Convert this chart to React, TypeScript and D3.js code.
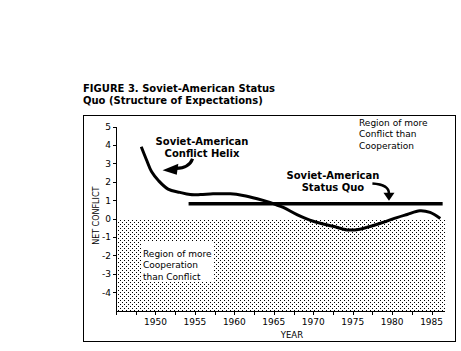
import React, { useEffect, useRef } from 'react';
import * as d3 from 'd3';

// Conflict helix (year, net conflict)
const helixYears = [1948.2, 1948.9, 1949.5, 1950.4, 1951.6, 1953.1, 1954.4, 1955.7, 1957.3, 1959.5, 1961.1, 1962.9, 1964.5, 1966.2, 1968.0, 1970.0, 1972.5, 1974.3, 1975.9, 1978.8, 1980.6, 1981.9, 1983.5, 1984.8, 1986.1];
const helixValues = [3.9, 3.15, 2.55, 2.05, 1.6, 1.42, 1.3, 1.3, 1.34, 1.34, 1.25, 1.07, 0.87, 0.6, 0.2, -0.15, -0.42, -0.62, -0.58, -0.22, 0.05, 0.22, 0.42, 0.33, 0.0];

// Status quo level (structure of expectations)
const statusQuoYears = [1954.2, 1986.4];
const statusQuoValues = [0.8, 0.8];

const yearLabels = [1950, 1955, 1960, 1965, 1970, 1975, 1980, 1985];
const yearTicks = d3.range(1945, 1986, 2.5);
const conflictTicks = [5, 4, 3, 2, 1, 0, -1, -2, -3, -4];

const titleLines = ['FIGURE 3. Soviet-American Status', 'Quo (Structure of Expectations)'];
const helixLabel = ['Soviet-American', 'Conflict Helix'];
const statusQuoLabel = ['Soviet-American', 'Status  Quo'];
const conflictRegion = ['Region of more', 'Conflict than', 'Cooperation'];
const coopRegion = ['Region of more', 'Cooperation', 'than Conflict'];

const App: React.FC = () => {
  const svgRef = useRef<SVGSVGElement>(null);

  useEffect(() => {
    if (!svgRef.current) return;
    const svg = d3.select(svgRef.current);
    svg.selectAll('*').remove();

    const font = '"DejaVu Sans", sans-serif';
    const x = d3.scaleLinear().domain([1945, 1986.7]).range([116, 445]);
    const y = d3.scaleLinear().domain([-5, 5]).range([310.5, 126.5]);

    // stipple pattern for the cooperation region
    const pat = svg.append('defs').append('pattern')
      .attr('id', 'dots')
      .attr('patternUnits', 'userSpaceOnUse')
      .attr('width', 4)
      .attr('height', 4);
    [[0, 0], [2, 2]].forEach(([px, py]) => {
      pat.append('rect')
        .attr('x', px).attr('y', py)
        .attr('width', 1).attr('height', 1)
        .attr('fill', '#000')
        .attr('shape-rendering', 'crispEdges');
    });

    // title
    svg.append('g').selectAll('text')
      .data(titleLines)
      .enter()
      .append('text')
      .attr('x', 83)
      .attr('y', (_, i) => 92 + i * 12)
      .attr('font-family', font)
      .attr('font-size', '10px')
      .attr('font-weight', 'bold')
      .text(d => d);

    // frame
    svg.append('rect')
      .attr('x', 83.5).attr('y', 115.5)
      .attr('width', 372).attr('height', 226)
      .attr('fill', 'none').attr('stroke', '#000');

    // shaded region below zero
    svg.append('rect')
      .attr('x', Math.round(x(1945))).attr('y', Math.round(y(0)))
      .attr('width', Math.round(x(1986.7) - x(1945)))
      .attr('height', Math.round(y(-5) - y(0)))
      .attr('fill', 'url(#dots)')
      .attr('shape-rendering', 'crispEdges');

    // white box behind the cooperation label
    const cx = Math.round(x(1948.2));
    svg.append('rect')
      .attr('x', cx).attr('y', Math.round(y(-1.3)))
      .attr('width', 72).attr('height', Math.round(y(-3.4) - y(-1.3)))
      .attr('fill', '#fff');
    svg.append('g').selectAll('text')
      .data(coopRegion)
      .enter()
      .append('text')
      .attr('x', cx + 2)
      .attr('y', (_, i) => y(-2.07) + i * 11.5)
      .attr('font-family', font)
      .attr('font-size', '9px')
      .text(d => d);

    // y axis
    const ya = svg.append('g').attr('shape-rendering', 'crispEdges');
    ya.append('line')
      .attr('x1', 116.5).attr('x2', 116.5)
      .attr('y1', y(5)).attr('y2', y(-5) + 3)
      .attr('stroke', '#000');
    ya.selectAll('.yt')
      .data(conflictTicks)
      .enter()
      .append('line')
      .attr('x1', 113).attr('x2', 116.5)
      .attr('y1', d => Math.round(y(d)) + 0.5)
      .attr('y2', d => Math.round(y(d)) + 0.5)
      .attr('stroke', '#000');
    ya.selectAll('text')
      .data(conflictTicks)
      .enter()
      .append('text')
      .attr('x', 111)
      .attr('y', d => y(d) + 3.5)
      .attr('text-anchor', 'end')
      .attr('font-family', font)
      .attr('font-size', '9px')
      .text(d => d);

    svg.append('text')
      .attr('transform', `translate(${99}, ${y(0.15)}) rotate(-90)`)
      .attr('text-anchor', 'middle')
      .attr('font-family', font)
      .attr('font-size', '8px')
      .text('NET CONFLICT');

    // x axis
    const xa = svg.append('g').attr('shape-rendering', 'crispEdges');
    xa.append('line')
      .attr('x1', x(1945)).attr('x2', x(1986.7))
      .attr('y1', 311.5).attr('y2', 311.5)
      .attr('stroke', '#000');
    xa.selectAll('.xt')
      .data(yearTicks)
      .enter()
      .append('line')
      .attr('x1', d => Math.round(x(d)) + 0.5)
      .attr('x2', d => Math.round(x(d)) + 0.5)
      .attr('y1', 311.5).attr('y2', 315)
      .attr('stroke', '#000');
    xa.selectAll('text')
      .data(yearLabels)
      .enter()
      .append('text')
      .attr('x', d => x(d))
      .attr('y', 324.5)
      .attr('text-anchor', 'middle')
      .attr('font-family', font)
      .attr('font-size', '9px')
      .text(d => d);
    svg.append('text')
      .attr('x', x(1967.3))
      .attr('y', 337.5)
      .attr('text-anchor', 'middle')
      .attr('font-family', font)
      .attr('font-size', '8.5px')
      .text('YEAR');

    // status quo line
    const sq = statusQuoYears.map((yr, i) => [yr, statusQuoValues[i]] as [number, number]);
    svg.append('path')
      .datum(sq)
      .attr('d', d3.line<[number, number]>().x(d => x(d[0])).y(d => y(d[1])))
      .attr('fill', 'none')
      .attr('stroke', '#000')
      .attr('stroke-width', 3.5);

    // conflict helix
    const helix = helixYears.map((yr, i) => [yr, helixValues[i]] as [number, number]);
    svg.append('path')
      .datum(helix)
      .attr('d', d3.line<[number, number]>().x(d => x(d[0])).y(d => y(d[1])).curve(d3.curveCatmullRom))
      .attr('fill', 'none')
      .attr('stroke', '#000')
      .attr('stroke-width', 3)
      .attr('stroke-linejoin', 'round');

    // bold annotations
    const boldLines = (lines: string[], year: number, value: number) => {
      svg.append('g').selectAll('text')
        .data(lines)
        .enter()
        .append('text')
        .attr('x', x(year))
        .attr('y', (_, i) => y(value) + i * 12)
        .attr('text-anchor', 'middle')
        .attr('font-family', font)
        .attr('font-size', '10px')
        .attr('font-weight', 'bold')
        .text(d => d);
    };
    boldLines(helixLabel, 1955.9, 4.0);
    boldLines(statusQuoLabel, 1972.5, 2.17);

    svg.append('g').selectAll('text')
      .data(conflictRegion)
      .enter()
      .append('text')
      .attr('x', x(1975.8))
      .attr('y', (_, i) => y(5.05) + i * 11.5)
      .attr('font-family', font)
      .attr('font-size', '9px')
      .text(d => d);

    // curved arrows
    // helix arrow: from below the label, curving down-left
    svg.append('path')
      .attr('d', `M${x(1954.7)},${y(3.25)} Q${x(1954.3)},${y(2.75)} ${x(1952.6)},${y(2.72)}`)
      .attr('fill', 'none').attr('stroke', '#000').attr('stroke-width', 3.2);
    svg.append('path')
      .attr('d', `M${x(1950.9)},${y(2.62)} L${x(1952.9)},${y(2.98)} L${x(1952.7)},${y(2.38)} Z`)
      .attr('fill', '#000');
    // status quo arrow: curving right then down
    svg.append('path')
      .attr('d', `M${x(1977.5)},${y(1.9)} Q${x(1979.6)},${y(1.85)} ${x(1979.6)},${y(1.35)}`)
      .attr('fill', 'none').attr('stroke', '#000').attr('stroke-width', 2.5);
    svg.append('path')
      .attr('d', `M${x(1979.6)},${y(0.97)} L${x(1978.9)},${y(1.4)} L${x(1980.3)},${y(1.4)} Z`)
      .attr('fill', '#000');
  }, []);

  return (
    <svg
      ref={svgRef}
      width={461}
      height={351}
      style={{ position: 'absolute', left: 0, top: 0, background: '#fff' }}
    />
  );
};

export default App;
